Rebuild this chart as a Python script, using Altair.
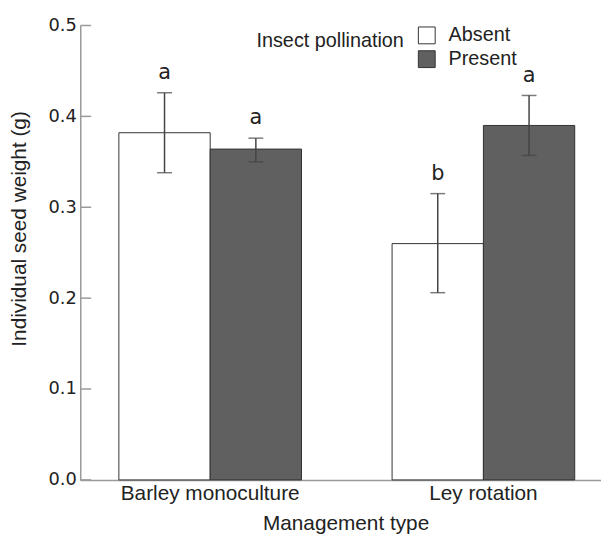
import altair as alt
import pandas as pd

management = ["Barley monoculture", "Barley monoculture", "Ley rotation", "Ley rotation"]
pollination = ["Absent", "Present", "Absent", "Present"]
seed_weight = [0.382, 0.364, 0.260, 0.390]
err_low = [0.338, 0.350, 0.206, 0.357]
err_high = [0.426, 0.376, 0.315, 0.423]
letters = ["a", "a", "b", "a"]
y_ticks = [0.0, 0.1, 0.2, 0.3, 0.4, 0.5]
groups = ["Barley monoculture", "Ley rotation"]
levels = ["Absent", "Present"]
fills = ["#ffffff", "#606060"]

df = pd.DataFrame({
    "management": management,
    "pollination": pollination,
    "weight": seed_weight,
    "lo": err_low,
    "hi": err_high,
    "letter": letters,
})
ticks_df = pd.DataFrame({"t": y_ticks})

AX = "#9a9a9a"
TXT = "#222222"
y_scale = alt.Scale(domain=[0, 0.5], nice=False, zero=True)
y_axis = alt.Axis(
    title="Individual seed weight (g)", values=y_ticks, format=".1f",
    ticks=False, tickSize=0, grid=False, labelPadding=4,
    labelFont="DejaVu Sans", labelFontSize=18, labelColor=TXT,
    titleFont="Liberation Sans", titleFontSize=21, titleColor=TXT,
    titleFontWeight="normal", titlePadding=19, titleY=205,
    domainColor=AX, domainWidth=1.5,
)
x_scale = alt.Scale(paddingInner=0.3315, paddingOuter=0.1187, align=0.595)
x_axis = alt.Axis(
    title="Management type", labelAngle=0, ticks=False, tickSize=0, labelLimit=0,
    labelFont="Liberation Sans", labelFontSize=21, labelColor=TXT,
    titleFont="Liberation Sans", titleFontSize=21, titleColor=TXT,
    titleFontWeight="normal", labelPadding=3, titlePadding=9, titleX=268,
    domainColor=AX, domainWidth=1.5,
)


def X():
    return alt.X("management:N", sort=groups, scale=x_scale, axis=x_axis)


def Y(field):
    return alt.Y(field, scale=y_scale, axis=y_axis)


xoff = alt.XOffset("pollination:N", sort=levels,
                   scale=alt.Scale(paddingInner=0, paddingOuter=0))

bars = alt.Chart(df).mark_bar(stroke="#333333", strokeWidth=1).encode(
    x=X(),
    xOffset=xoff,
    y=Y("weight:Q"),
    fill=alt.Fill(
        "pollination:N", sort=levels,
        scale=alt.Scale(domain=levels, range=fills),
        legend=alt.Legend(title="Insect pollination"),
    ),
)

inner_ticks = alt.Chart(ticks_df).mark_rule(color=AX, strokeWidth=1.5).encode(
    y=Y("t:Q"),
    x=alt.value(0),
    x2=alt.value(11),
)

err = alt.Chart(df).mark_rule(color="#444444", strokeWidth=1.5).encode(
    x=X(), xOffset=xoff, y=Y("lo:Q"), y2="hi:Q",
)
cap_lo = alt.Chart(df).mark_tick(orient="horizontal", size=15, thickness=1.5, color="#444444").encode(
    x=X(), xOffset=xoff, y=Y("lo:Q"),
)
cap_hi = alt.Chart(df).mark_tick(orient="horizontal", size=15, thickness=1.5, color="#444444").encode(
    x=X(), xOffset=xoff, y=Y("hi:Q"),
)
txt = alt.Chart(df).mark_text(font="DejaVu Sans", fontSize=21, baseline="bottom", dy=-10, color=TXT).encode(
    x=X(), xOffset=xoff, y=Y("hi:Q"), text="letter:N",
)

chart = alt.layer(bars, inner_ticks, err, cap_lo, cap_hi, txt).properties(
    width=526, height=459,
    autosize=alt.AutoSizeParams(type="none"),
    padding={"left": 73, "top": 15, "right": 0, "bottom": 54},
).configure_view(stroke=None).configure_legend(
    orient="none", legendX=178, legendY=0, titleOrient="left",
    titleAnchor="middle", titleBaseline="alphabetic", titlePadding=13,
    titleFont="Liberation Sans", titleFontSize=20, titleFontWeight="normal", titleColor=TXT,
    labelFont="Liberation Sans", labelFontSize=20, labelColor=TXT, labelOffset=12,
    symbolType="square", symbolSize=289, symbolStrokeColor="#333333", symbolStrokeWidth=1,
    rowPadding=2, padding=0,
)

chart.save("out.html", embed_options={"renderer": "svg", "actions": False})
